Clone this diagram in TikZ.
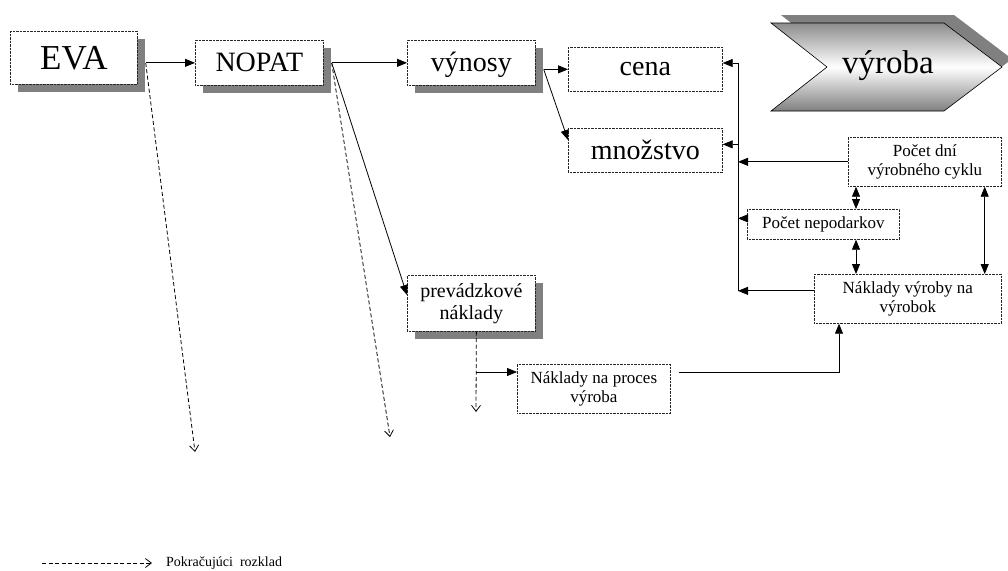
\documentclass[tikz,border=0pt]{standalone}
\usepackage{fontspec}
\setmainfont{Liberation Serif}
\usetikzlibrary{arrows.meta, positioning, shadows}

\begin{document}
\begin{tikzpicture}[x=1pt, y=-1pt,
    box/.style={draw=black!85, line width=0.7pt, dash pattern=on 0.7pt off 0.7pt, fill=white, anchor=north west, inner sep=0pt, align=center},
    tien/.style={drop shadow={shadow xshift=8pt, shadow yshift=-8pt, fill=black!50, opacity=1}},
    sip/.style={-{Triangle[length=10pt, width=8pt]}, line width=0.8pt},
    dsip/.style={{Triangle[length=10pt, width=8pt]}-{Triangle[length=10pt, width=8pt]}, line width=0.8pt},
    rozklad/.style={-{Straight Barb[length=6pt, width=9pt]}, dash pattern=on 4pt off 2.5pt, line width=0.8pt},
    velke/.style={font=\fontsize{28}{32}\selectfont},
    male/.style={font=\fontsize{17}{19}\selectfont}]
    \useasboundingbox (0,0) rectangle (1008,570);
    % hlavne boxy
    \node[box, tien, minimum width=127pt, minimum height=53pt, font=\fontsize{35}{40}\selectfont] (eva) at (10,31) {EVA};
    \node[box, tien, velke, minimum width=128pt, minimum height=45pt] (nopat) at (195,40) {NOPAT};
    \node[box, tien, velke, minimum width=128pt, minimum height=45pt, text depth=2pt] (vynosy) at (407,40) {výnosy};
    \node[box, velke, minimum width=154pt, minimum height=44pt] (cena) at (568,47) {cena};
    \node[box, velke, minimum width=154pt, minimum height=44pt] (mnozstvo) at (568,128) {množstvo};
    \node[box, tien, minimum width=128pt, minimum height=56pt, font=\fontsize{20}{22}\selectfont] (prevadzkove) at (407,275) {prevádzkové\\náklady};
    % male boxy
    \node[box, male, minimum width=153pt, minimum height=49pt] (proces) at (517,364) {Náklady na proces\\výroba};
    \node[box, male, minimum width=153pt, minimum height=49pt] (pocetdni) at (848,137) {Počet dní\\výrobného cyklu};
    \node[box, male, minimum width=152pt, minimum height=30pt] (nepodarkov) at (747,209) {Počet nepodarkov};
    \node[box, male, minimum width=187pt, minimum height=49pt] (nakladyvyr) at (814,274) {Náklady výroby na\\výrobok};
    % sipka vyroba
    \fill[black!50] (781,15) -- (954,15) -- (1012,59) -- (954,103) -- (781,103) -- (837,59) -- cycle;
    \draw[top color=black!45, bottom color=black!50, middle color=white, line width=0.6pt] (771,23) -- (944,23) -- (1002,67) -- (944,111) -- (771,111) -- (827,67) -- cycle;
    \node[font=\fontsize{33}{36}\selectfont] (vyroba) at (888,66) {výroba};
    % rozklad
    \draw[sip] ([xshift=8pt]eva.east |- nopat.west) -- (nopat.west);
    \draw[sip] ([xshift=8pt]nopat.east) -- (vynosy.west);
    \draw[sip] ([xshift=8pt]vynosy.east |- cena.west) -- (cena.west);
    \draw[sip] ([xshift=8pt]vynosy.east |- cena.west) -- ([yshift=-12pt]mnozstvo.north west);
    \draw[sip] ([xshift=8pt]nopat.east) -- ([yshift=-20pt]prevadzkove.north west);
    % pokracujuci rozklad
    \coordinate (evadole) at (195,452);
    \coordinate (nopatdole) at (390,437);
    \coordinate (prevdole) at (476,412);
    \draw[rozklad] ([xshift=8pt]eva.east |- nopat.west) -- (evadole);
    \draw[rozklad] ([xshift=8pt]nopat.east) -- (nopatdole);
    \draw[rozklad] ([xshift=5pt]prevadzkove.south) -- (prevdole);
    \coordinate (odb) at (476,372);
    \draw[sip] (odb) -- (odb -| proces.west);
    \draw[sip] ([xshift=8pt]proces.east |- odb) -| ([xshift=25pt]nakladyvyr.south west);
    % zbernica
    \coordinate (bh) at (738,63);
    \coordinate (bd) at (738,291);
    \draw[line width=0.8pt] (bh) -- (bd);
    \draw[sip] (bh) -- (bh -| cena.east);
    \draw[sip] ([yshift=6pt]mnozstvo.east) ++(16,0) -- ([yshift=6pt]mnozstvo.east);
    \draw[sip] (pocetdni.west) -- (pocetdni.west -| bh);
    \draw[sip] ([yshift=6pt]nepodarkov.west) -- ([yshift=6pt]nepodarkov.west -| bh);
    \draw[sip] ([yshift=8pt]nakladyvyr.west) -- ([yshift=8pt]nakladyvyr.west -| bh);
    \draw[dsip] ([xshift=8pt]pocetdni.south west) -- ([xshift=8pt]pocetdni.south west |- nepodarkov.north);
    \draw[dsip] ([xshift=8pt]pocetdni.south west |- nepodarkov.south) -- ([xshift=8pt]pocetdni.south west |- nakladyvyr.north);
    \draw[dsip] ([xshift=-17pt]pocetdni.south east) -- ([xshift=-17pt]pocetdni.south east |- nakladyvyr.north);
    % legenda
    \node[anchor=west, inner sep=0pt, font=\fontsize{14}{16}\selectfont] (legenda) at (166,563) {Pokračujúci\ \ rozklad};
    \coordinate (legzac) at (42,563);
    \draw[rozklad] (legzac) -- ([xshift=-14pt]legenda.west);
\end{tikzpicture}
\end{document}
